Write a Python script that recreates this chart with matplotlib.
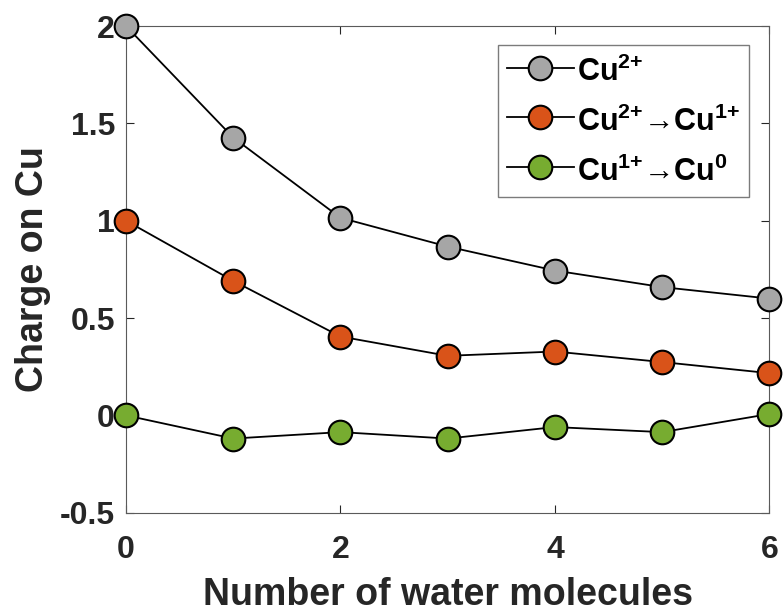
import matplotlib
matplotlib.use("Agg")
import matplotlib.pyplot as plt

plt.rcParams['font.family'] = ['Liberation Sans', 'DejaVu Sans']
plt.rcParams['font.weight'] = 'bold'
plt.rcParams['mathtext.fontset'] = 'custom'
plt.rcParams['mathtext.rm'] = 'Liberation Sans:bold'
plt.rcParams['mathtext.bf'] = 'Liberation Sans:bold'
plt.rcParams['mathtext.it'] = 'Liberation Sans:bold'

water = [0, 1, 2, 3, 4, 5, 6]
cu2 = [2.00, 1.427, 1.015, 0.867, 0.744, 0.659, 0.600]
cu2_to_cu1 = [1.00, 0.691, 0.405, 0.306, 0.328, 0.274, 0.217]
cu1_to_cu0 = [0.00, -0.119, -0.086, -0.119, -0.060, -0.086, 0.007]

labels = [r'Cu$^{2{+}}$', r'Cu$^{2{+}}$→Cu$^{1{+}}$', r'Cu$^{1{+}}$→Cu$^{0}$']
colors = ['#A6A6A6', '#D95319', '#77AC30']
series = [cu2, cu2_to_cu1, cu1_to_cu0]

xticks = [0, 2, 4, 6]
yticks = [-0.5, 0, 0.5, 1, 1.5, 2]
yticklabels = ['-0.5', '0', '0.5', '1', '1.5', '2']

fig = plt.figure(figsize=(7.84, 6.15), dpi=100)
ax = fig.add_axes([0.1607, 0.1663, 0.9813 - 0.1607, 0.9577 - 0.1663])

dark = '#262626'
for ys, c, lab in zip(series, colors, labels):
    ax.plot(water, ys, '-o', color='black', lw=1.3, markersize=17,
            markerfacecolor=c, markeredgecolor='black', markeredgewidth=1.5,
            label=lab, clip_on=False, zorder=3)

ax.set_xlim(0, 6)
ax.set_ylim(-0.5, 2)
ax.set_xticks(xticks)
ax.set_xticklabels([str(t) for t in xticks])
ax.set_yticks(yticks)
ax.set_yticklabels(yticklabels)
ax.tick_params(direction='in', top=True, right=True, length=6, width=0.8,
               colors=dark, labelsize=23)
ax.tick_params(axis='x', pad=16)
ax.tick_params(axis='y', pad=8)
for lbl in ax.get_xticklabels() + ax.get_yticklabels():
    lbl.set_fontweight('bold')
for s in ax.spines.values():
    s.set_color('#5a5a5a')
    s.set_linewidth(0.8)

ax.set_xlabel('Number of water molecules', fontsize=27, fontweight='bold', color=dark, labelpad=9)
ax.set_ylabel('Charge on Cu', fontsize=27, fontweight='bold', color=dark, labelpad=6)

leg = ax.legend(loc='upper right', bbox_to_anchor=(0.969, 0.961), borderaxespad=0,
                handlelength=2.2, handleheight=1.3, handletextpad=0.1, labelspacing=0.52,
                borderpad=0.3, fancybox=False, frameon=True, prop={'weight': 'bold', 'size': 22})
leg.get_frame().set_edgecolor('#5a5a5a')
leg.get_frame().set_linewidth(1.0)
for t in leg.get_texts():
    t.set_color('black')

fig.savefig('out.png', dpi=100)
